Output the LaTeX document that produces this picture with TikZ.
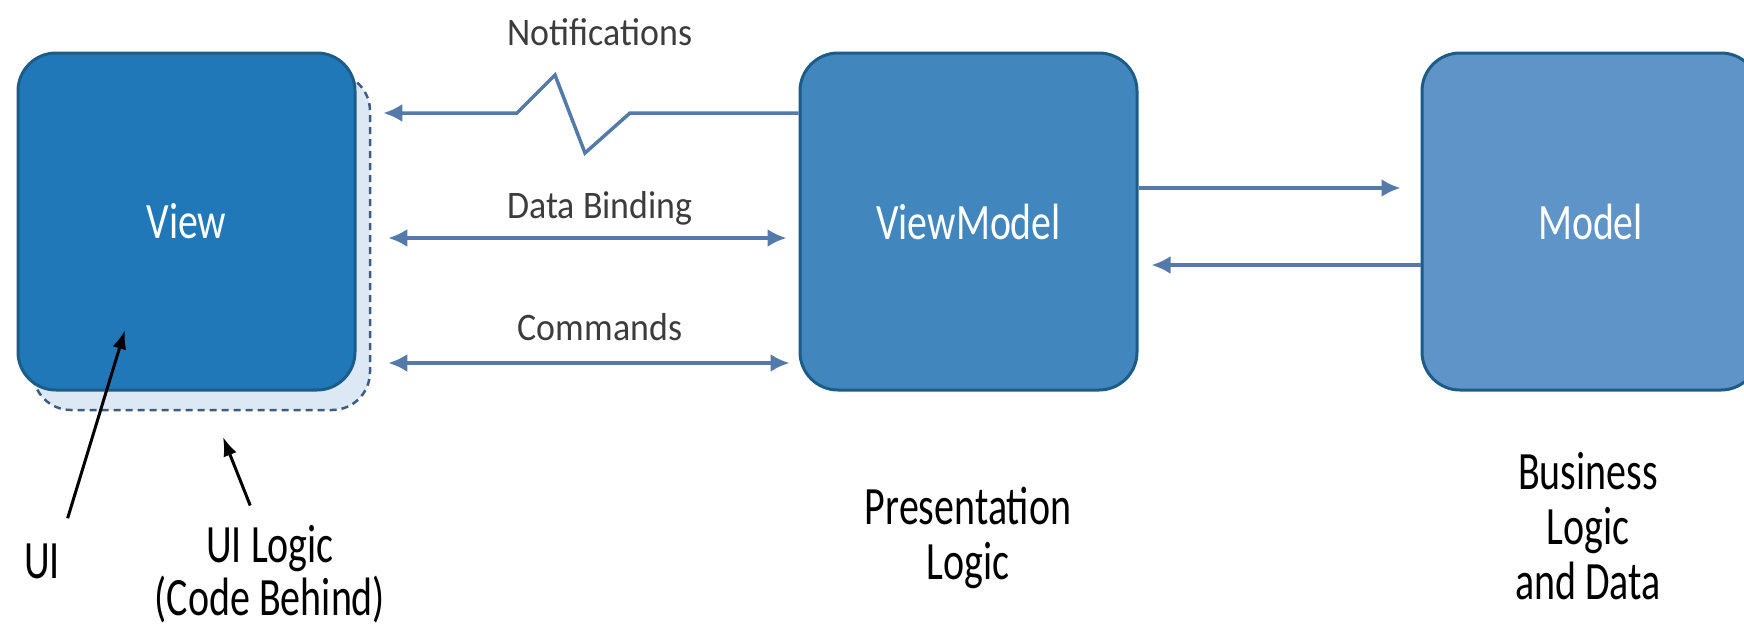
\documentclass[tikz,border=0pt]{standalone}
\usepackage{fontspec}
\usetikzlibrary{arrows.meta}
\newfontfamily\boxfont[FakeStretch=0.78]{Carlito}
\newfontfamily\tagfont[FakeStretch=0.92]{Carlito}
\newfontfamily\notefont[FakeStretch=0.74]{Carlito}
\definecolor{viewblue}{HTML}{2078B8}
\definecolor{vmblue}{HTML}{4286BE}
\definecolor{modelblue}{HTML}{5F94C8}
\definecolor{edgeblue}{HTML}{1B5C88}
\definecolor{ghostblue}{HTML}{DCE8F4}
\definecolor{dashblue}{HTML}{3D5C84}
\definecolor{linkblue}{HTML}{5479AB}
\definecolor{taggrey}{HTML}{3C3C3C}

\begin{document}
\begin{tikzpicture}
  [
  x=1pt,y=-1pt,
  box/.style={rectangle,rounded corners=38pt,draw=edgeblue,line width=3pt,minimum width=337pt,minimum height=337pt,inner sep=0pt,text=white,font=\boxfont\fontsize{51}{60}\selectfont},
  ghost/.style={rectangle,rounded corners=38pt,draw=dashblue,fill=ghostblue,line width=2.5pt,dash pattern=on 7pt off 5pt,minimum width=337pt,minimum height=337pt},
  link/.style={draw=linkblue,line width=3.5pt,>={Latex[length=19pt,width=18pt]}},
  pointer/.style={->,line width=3pt,black,>={Latex[length=19pt,width=14pt]}},
  tag/.style={inner sep=0pt,text=taggrey,font=\tagfont\fontsize{39}{46}\selectfont},
  note/.style={inner sep=0pt,align=center,font=\notefont\fontsize{54}{55}\selectfont}
  ]
  \useasboundingbox (0,0) rectangle (1744,630);

  \node (codebehind) at (201.5,241.5) [ghost] {};
  \node (view) at (186.5,221.5) [box,fill=viewblue] {View};
  \node (vm) at (968.5,221.5) [box,fill=vmblue] {ViewModel};
  \node (model) at (1590.5,221.5) [box,fill=modelblue] {Model};

  \node (notif) at (600,45) [tag,anchor=base] {Notifications};
  \node (binding) at (600,218) [tag,anchor=base] {Data Binding};
  \node (commands) at (600,340) [tag,anchor=base] {Commands};

  \node (ui) at (42,578) [note,anchor=base] {UI};
  \node (uilogic) at (270,525) [note,anchor=north,font=\notefont\fontsize{54}{53}\selectfont] {UI Logic\\(Code Behind)};
  \node (presentation) at (968,487) [note,anchor=north] {Presentation\\Logic};
  \node (business) at (1588,452) [note,anchor=north] {Business\\Logic\\and Data};

  \coordinate (n1) at (630,113);
  \coordinate (n2) at (585,153);
  \coordinate (n3) at (555,75);
  \coordinate (n4) at (517,113);
  \coordinate (db) at (600,238);
  \coordinate (cmd) at (600,363);
  \coordinate (req) at (1280,188);
  \coordinate (resp) at (1280,265);
  \coordinate (uitip) at (125,330);
  \coordinate (uiltip) at (223,437);

  \draw [link,->] (vm.west |- n1) -- (n1) -- (n2) -- (n3) -- (n4) -- ([xshift=12pt]codebehind.east |- n4);
  \draw [link,<->,shorten <=17pt,shorten >=12pt] (codebehind.east |- db) to (vm.west |- db);
  \draw [link,<->,shorten <=17pt,shorten >=9pt] (codebehind.east |- cmd) to (vm.west |- cmd);
  \draw [link,->,shorten >=20pt] (vm.east |- req) to (model.west |- req);
  \draw [link,->,shorten >=13pt] (model.west |- resp) to (vm.east |- resp);

  \draw [pointer,shorten <=26pt] (ui.north east) to (uitip);
  \draw [pointer,shorten <=21pt] ([xshift=-12pt]uilogic.north) to (uiltip);
\end{tikzpicture}
\end{document}
